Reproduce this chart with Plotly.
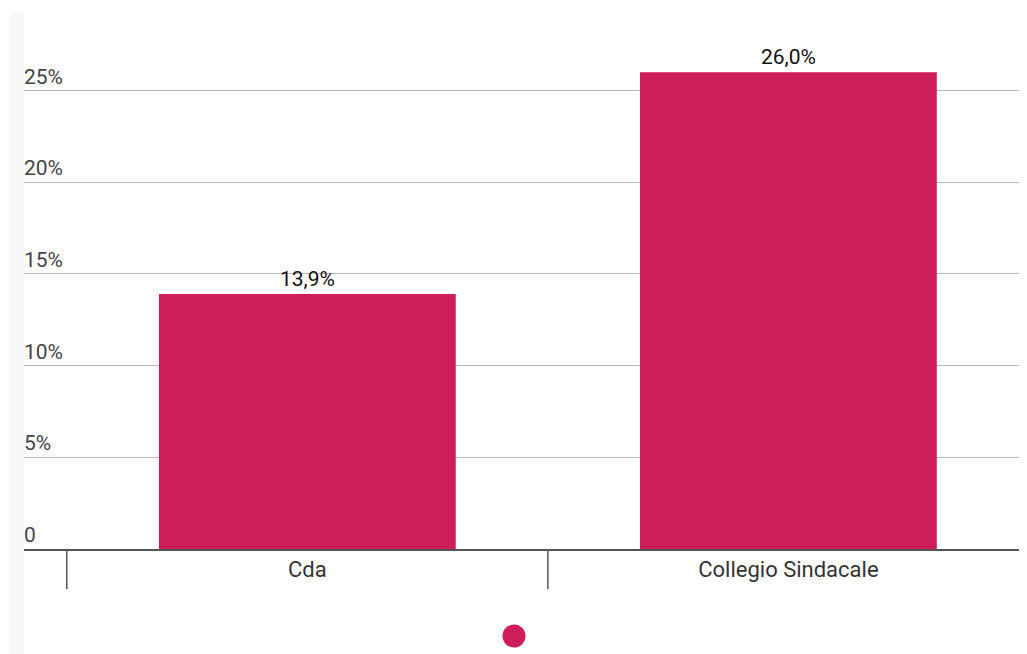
import plotly.graph_objects as go

categories = ["Cda", "Collegio Sindacale"]
values = [13.9, 26.0]
ytick_vals = [0, 5, 10, 15, 20, 25]
ytick_labels = ["0", "5%", "10%", "15%", "20%", "25%"]

BAR_COLOR = "#CF1C5B"
W, H = 1019, 646
L, R, T, B = 16, 0, 22, 105

plot_h = H - T - B
plot_w = W - L - R

fig = go.Figure()
fig.add_trace(go.Bar(
    x=categories, y=values,
    marker=dict(color=BAR_COLOR, line=dict(width=0)),
    width=0.617,
    texttemplate="%{y:.1f}%",
    textposition="outside",
    textfont=dict(family="Roboto", size=21, color="#111"),
    cliponaxis=False,
    showlegend=False,
    hoverinfo="skip",
))

annotations = []
for v, lab in zip(ytick_vals, ytick_labels):
    annotations.append(dict(
        xref="paper", yref="y", x=0, y=v, xanchor="left", yanchor="bottom",
        text=lab, showarrow=False, xshift=-2, yshift=0,
        font=dict(family="Roboto", size=21, color="#444"),
    ))

shapes = [
    # light left strip
    dict(type="rect", xref="paper", yref="paper",
         x0=(2 - L) / plot_w, x1=0,
         y0=-B / plot_h, y1=(H - B - 4) / plot_h,
         fillcolor="#F8F8F8", line=dict(width=0), layer="below"),
]
# category boundary dividers
for i in range(len(categories)):
    shapes.append(dict(type="line", xref="x", x0=i - 0.5, x1=i - 0.5,
                       yref="paper", ysizemode="pixel", yanchor=0, y0=0, y1=-40,
                       line=dict(color="#555", width=1.5)))
# legend key dot
cx, cy, r = 506, 628, 11.5
shapes.append(dict(type="circle", xref="paper", yref="paper",
                   x0=(cx - r - L) / plot_w, x1=(cx + r - L) / plot_w,
                   y0=(H - B - cy - r) / plot_h, y1=(H - B - cy + r) / plot_h,
                   fillcolor=BAR_COLOR, line=dict(width=0)))

fig.update_layout(
    width=W, height=H,
    margin=dict(l=L, r=R, t=T, b=B, autoexpand=False),
    paper_bgcolor="white", plot_bgcolor="white",
    separators=",.",
    font=dict(family="Roboto", color="#333"),
    xaxis=dict(
        type="category", range=[-0.589, 1.496],
        showline=True, linecolor="#555", linewidth=2,
        ticks="", showgrid=False,
        tickfont=dict(family="Roboto", size=22, color="#333"),
        ticklabelstandoff=0,
    ),
    yaxis=dict(
        range=[0, 28.3], tickvals=ytick_vals, showticklabels=False,
        showgrid=True, gridcolor="#BBBBBB", gridwidth=1,
        zeroline=False, ticks="",
    ),
    annotations=annotations,
    shapes=shapes,
    showlegend=False,
)

fig.write_html("out.html")
